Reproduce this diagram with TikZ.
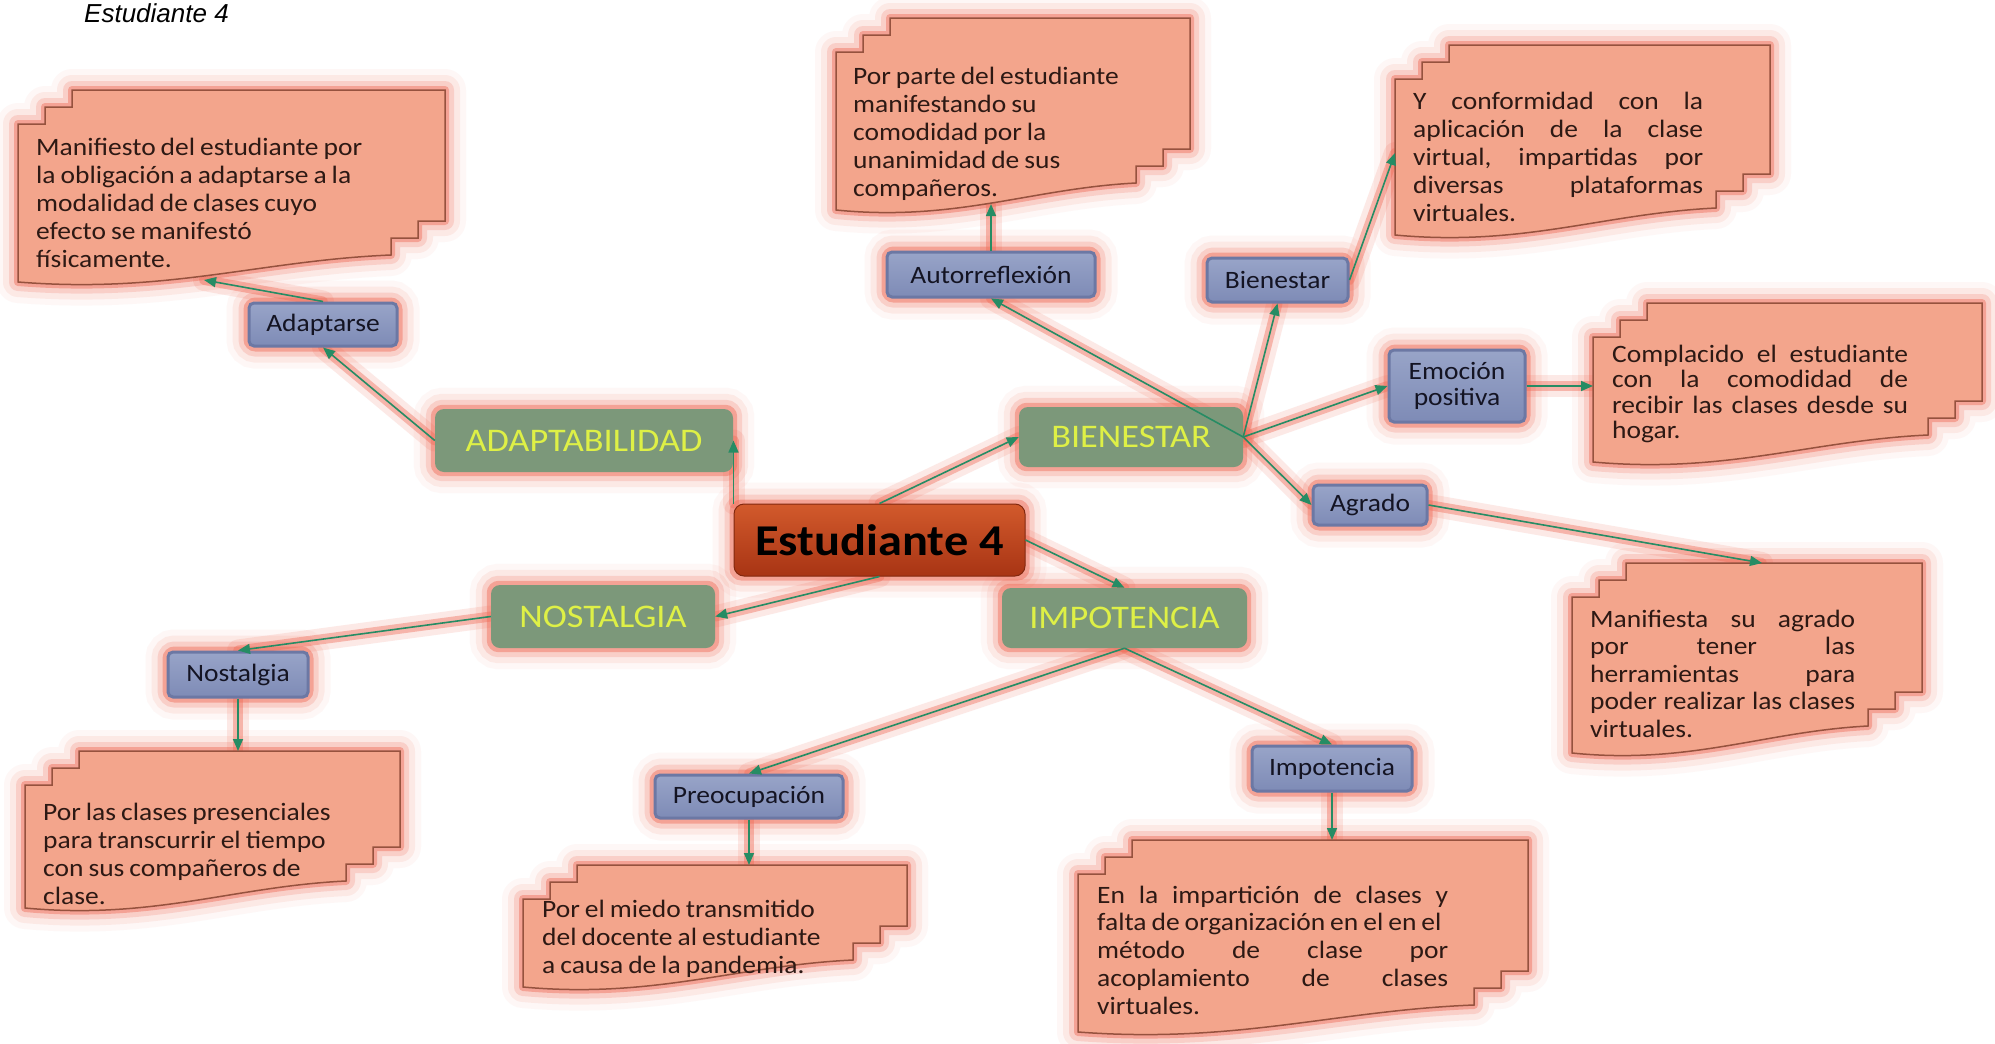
\documentclass[tikz,border=0pt]{standalone}
\usepackage{fontspec}
\setmainfont[FakeStretch=1.1]{Carlito}
\newfontfamily\titlefont{Liberation Sans}
\usetikzlibrary{arrows.meta}
\pgfdeclarelayer{bg}
\pgfdeclarelayer{glow}
\pgfsetlayers{bg,glow,main}
\definecolor{glowc}{RGB}{240,108,88}
\definecolor{notefill}{RGB}{243,165,140}
\definecolor{noteline}{RGB}{150,82,62}
\definecolor{notetxt}{RGB}{45,25,20}
\definecolor{lonefill}{RGB}{124,152,122}
\definecolor{lonetext}{RGB}{222,240,70}
\definecolor{ltwotop}{RGB}{152,164,200}
\definecolor{ltwobot}{RGB}{126,139,182}
\definecolor{ltwoline}{RGB}{108,120,164}
\definecolor{ltwotext}{RGB}{20,20,35}
\definecolor{ctrtop}{RGB}{210,90,44}
\definecolor{ctrbot}{RGB}{168,52,20}
\definecolor{ctrline}{RGB}{130,40,15}
\definecolor{conncol}{RGB}{38,140,100}
\newcommand\ragsp{\spaceskip=5pt plus 2pt\relax}
\newcommand\notepath[4]{(#1+54,#2) -- (#3,#2) -- (#3,#4-61) -- (#3-27,#4-61) -- (#3-27,#4-44) -- (#3-54,#4-44) -- (#3-54,#4-27) .. controls ({#3-54-0.35*(#3-54-#1)},{#4-27+5.4}) and ({#1+0.4*(#3-54-#1)},{#4+12}) .. (#1,#4) -- (#1,#2+34) -- (#1+27,#2+34) -- (#1+27,#2+17) -- (#1+54,#2+17) -- cycle}
\newcommand\notebox[4]{%
  \begin{pgfonlayer}{glow}\path[noteglow] \notepath{#1}{#2}{#3}{#4};\end{pgfonlayer}
  \path[notebody] \notepath{#1}{#2}{#3}{#4};}
\newcommand\link[2]{%
  \begin{pgfonlayer}{glow}\draw[linkglow] (#1) -- (#2);\end{pgfonlayer}
  \draw[conn] (#1) -- (#2);}
\begin{document}
\begin{tikzpicture}[x=1pt,y=-1pt,
  noteglow/.style={draw=glowc, line width=8pt, draw opacity=0.45, line join=round,
    preaction={draw=glowc, line width=18pt, draw opacity=0.2, line join=round},
    preaction={draw=glowc, line width=30pt, draw opacity=0.1, line join=round},
    preaction={draw=glowc, line width=42pt, draw opacity=0.05, line join=round}},
  notebody/.style={fill=notefill, draw=noteline, line width=1.5pt},
  notetext/.style={anchor=north west, inner sep=0pt, align=left, text=notetxt, font=\fontsize{25}{28}\selectfont},
  boxglow/.style={draw=glowc, line width=8pt, draw opacity=0.45, rounded corners=8pt,
    preaction={draw=glowc, line width=18pt, draw opacity=0.2, rounded corners=8pt},
    preaction={draw=glowc, line width=30pt, draw opacity=0.1, rounded corners=8pt},
    preaction={draw=glowc, line width=42pt, draw opacity=0.05, rounded corners=8pt}},
  linkglow/.style={draw=glowc, line width=10pt, draw opacity=0.42, line cap=round,
    preaction={draw=glowc, line width=22pt, draw opacity=0.15, line cap=round}},
  conn/.style={draw=conncol, line width=1.6pt, -{Triangle[length=12pt,width=10pt]}},
  lone/.style={rectangle, rounded corners=9pt, fill=lonefill, text=lonetext, font=\fontsize{33}{36}\selectfont, inner sep=0pt},
  ltwo/.style={rectangle, rounded corners=5pt, top color=ltwotop, bottom color=ltwobot, draw=ltwoline, line width=3pt, text=ltwotext, font=\fontsize{25}{26}\selectfont, inner sep=0pt, align=center},
  ctrbox/.style={rectangle, rounded corners=10pt, top color=ctrtop, bottom color=ctrbot, draw=ctrline, line width=1pt, font=\bfseries\fontsize{44}{48}\selectfont, inner sep=0pt}
]
\useasboundingbox (0,0) rectangle (1995,1044);
\begin{pgfonlayer}{bg}\fill[white] (0,0) rectangle (1995,1044);\end{pgfonlayer}

\node[anchor=base west, inner sep=0pt, font=\titlefont\itshape\fontsize{26}{30}\selectfont] (title) at (84,23) {Estudiante 4};

% notes
\notebox{18}{90}{445}{282}
\notebox{836}{18}{1190}{210}
\notebox{1395}{45}{1770}{235}
\notebox{1593}{303}{1982}{462}
\notebox{1572}{563}{1922}{753}
\notebox{25}{751}{400}{908}
\notebox{523}{865}{907}{987}
\notebox{1078}{840}{1528}{1032}

\node[notetext, text width=345pt] (tA) at (36,135) {\ragsp\rule{0pt}{20pt}Manifiesto del estudiante por\\la obligación a adaptarse a la\\modalidad de clases cuyo\\efecto se manifestó\\físicamente.};
\node[notetext, text width=300pt] (tB) at (853,64) {\ragsp\rule{0pt}{20pt}Por parte del estudiante\\manifestando su\\comodidad por la\\unanimidad de sus\\compañeros.};
\node[notetext, text width=290pt] (tC) at (1413,89) {\rule{0pt}{20pt}Y\hfill conformidad\hfill con\hfill la\\aplicación\hfill de\hfill la\hfill clase\\virtual,\hfill impartidas\hfill por\\diversas\hfill plataformas\\virtuales.};
\node[notetext, text width=296pt, font=\fontsize{25}{25.5}\selectfont] (tD) at (1612,342) {\rule{0pt}{20pt}Complacido\hfill el\hfill estudiante\\con\hfill la\hfill comodidad\hfill de\\recibir\hfill las\hfill clases\hfill desde\hfill su\\hogar.};
\node[notetext, text width=265pt, font=\fontsize{25}{27.5}\selectfont] (tE) at (1590,607) {\rule{0pt}{20pt}Manifiesta\hfill su\hfill agrado\\por\hfill tener\hfill las\\herramientas\hfill para\\poder\hfill realizar\hfill las\hfill clases\\virtuales.};
\node[notetext, text width=340pt] (tF) at (43,800) {\ragsp\rule{0pt}{20pt}Por las clases presenciales\\para transcurrir el tiempo\\con sus compañeros de\\clase.};
\node[notetext, text width=340pt] (tG) at (542,897) {\ragsp\rule{0pt}{20pt}Por el miedo transmitido\\del docente al estudiante\\a causa de la pandemia.};
\node[notetext, text width=351pt, font=\fontsize{25}{27.75}\selectfont] (tH) at (1097,883) {\rule{0pt}{20pt}En\hfill la\hfill impartición\hfill de\hfill clases\hfill y\\{\ragsp falta de organización en el en el}\\método\hfill de\hfill clase\hfill por\\acoplamiento\hfill de\hfill clases\\virtuales.};

% boxes
\node[ltwo, minimum width=148pt, minimum height=43pt] (adaptarse) at (323,324.5) {Adaptarse};
\node[lone, minimum width=298pt, minimum height=63pt] (adapt) at (584,440.5) {ADAPTABILIDAD};
\node[ctrbox, minimum width=291pt, minimum height=72pt] (ctr) at (879.5,540) {Estudiante 4};
\node[lone, minimum width=224pt, minimum height=63pt] (nost) at (603,616.5) {NOSTALGIA};
\node[ltwo, minimum width=140pt, minimum height=45pt] (nostalgia2) at (238,674.5) {Nostalgia};
\node[ltwo, minimum width=188pt, minimum height=43pt] (preoc) at (749,796.5) {Preocupación};
\node[lone, minimum width=245pt, minimum height=60pt] (impot) at (1124.5,618) {IMPOTENCIA};
\node[ltwo, minimum width=160pt, minimum height=45pt] (impot2) at (1332,768.5) {Impotencia};
\node[lone, minimum width=224pt, minimum height=60pt] (bien) at (1131,437) {BIENESTAR};
\node[ltwo, minimum width=208pt, minimum height=45pt] (autor) at (991,274.5) {Autorreflexión};
\node[ltwo, minimum width=141pt, minimum height=44pt] (bien2) at (1277.5,280) {Bienestar};
\node[ltwo, minimum width=136pt, minimum height=72pt] (emoc) at (1457,386) {Emoción\\positiva};
\node[ltwo, minimum width=114pt, minimum height=40pt] (agrado) at (1370,505) {Agrado};

\begin{pgfonlayer}{glow}
\foreach \n in {adaptarse,adapt,ctr,nost,nostalgia2,preoc,impot,impot2,bien,autor,bien2,emoc,agrado}{
  \draw[boxglow] (\n.north west) rectangle (\n.south east);}
\end{pgfonlayer}

% connector end points on the notes
\coordinate (nAin) at (204,280);
\coordinate (nBin) at (991,204);
\coordinate (nCin) at (1395,153);
\coordinate (nDin) at (1593,386);
\coordinate (nEin) at (1762,563);
\coordinate (nFin) at (238,751);
\coordinate (nGin) at (749,865);
\coordinate (nHin) at (1332,840);

% connectors
\link{ctr.north}{bien.west}
\link{ctr.north west}{ctr.north west |- adapt.east}
\link{ctr.south}{nost.east}
\link{ctr.east}{impot.north}
\link{adapt.west}{adaptarse.south}
\link{adaptarse.north}{nAin}
\link{nost.west}{nostalgia2.north}
\link{nostalgia2.south}{nFin}
\link{impot.south}{preoc.north}
\link{impot.south}{impot2.north}
\link{impot2.south}{nHin}
\link{preoc.south}{nGin}
\link{bien.east}{autor.south}
\link{bien.east}{bien2.south}
\link{bien.east}{emoc.west}
\link{bien.east}{agrado.west}
\link{bien2.east}{nCin}
\link{autor.north}{nBin}
\link{emoc.east}{nDin}
\link{agrado.east}{nEin}
\end{tikzpicture}
\end{document}
